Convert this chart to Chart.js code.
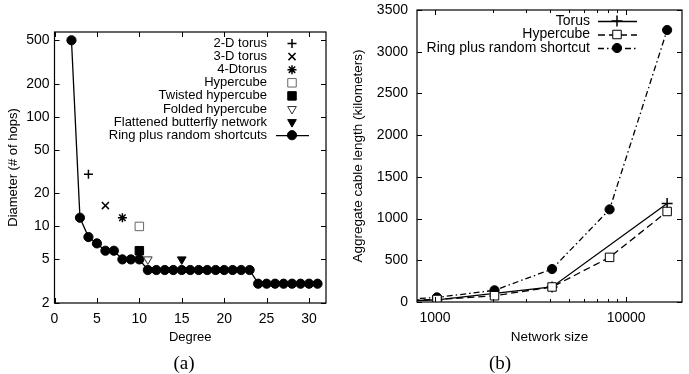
<!DOCTYPE html>
<html>
<head>
<meta charset="utf-8">
<script src="https://cdn.jsdelivr.net/npm/chart.js@4/dist/chart.umd.min.js"></script>
<style>
  html, body { margin: 0; padding: 0; background: #fff; }
  #wrap { position: relative; width: 689px; height: 374px; overflow: hidden; }
  .box { position: absolute; top: 0; height: 374px; }
  .cap { position: absolute; top: 352px; font: 19px "Liberation Serif", serif; color: #000; transform: translateX(-50%); }
</style>
</head>
<body>
<div id="wrap">
  <div class="box" style="left:0;width:345px"><canvas id="diam"></canvas></div>
  <div class="box" style="left:345px;width:344px"><canvas id="cable"></canvas></div>
  <div class="cap" style="left:184px">(a)</div>
  <div class="cap" style="left:500px">(b)</div>
</div>
<script>
// (a) diameter vs degree
const ringDegree = [2, 3, 4, 5, 6, 7, 8, 9, 10, 11, 12, 13, 14, 15, 16, 17, 18, 19, 20, 21, 22, 23, 24, 25, 26, 27, 28, 29, 30, 31];
const ringDiameter = [500, 12, 8, 7, 6, 6, 5, 5, 5, 4, 4, 4, 4, 4, 4, 4, 4, 4, 4, 4, 4, 4, 3, 3, 3, 3, 3, 3, 3, 3];
const topoNames = ['2-D torus', '3-D torus', '4-Dtorus', 'Hypercube', 'Twisted hypercube', 'Folded hypercube', 'Flattened butterfly network'];
const topoDegree = [4, 6, 8, 10, 10, 11, 15];
const topoDiameter = [30, 15.5, 12, 10, 6, 5, 5];
const diamTicks = [2, 5, 10, 20, 50, 100, 200, 500];

// (b) cable length vs network size
const netSize = [512, 1024, 2048, 4096, 8192, 16384];
const torusLen = [5, 25, null, 180, null, 1180];
const hypercubeLen = [10, 30, 75, 180, 535, 1085];
const ringLen = [15, 55, 140, 395, 1110, 3260];
const sizeTicks = [1000, 2000, 3000, 4000, 5000, 6000, 7000, 8000, 9000, 10000];

Chart.defaults.font.family = '"Liberation Sans", Arial, sans-serif';
Chart.defaults.color = '#000';
Chart.defaults.animation = false;

const topoStyles = [
  {pointStyle: 'cross', radius: 4.5, bg: '#000', border: '#000', rot: 0, bw: 1.5},
  {pointStyle: 'crossRot', radius: 5, bg: '#000', border: '#000', rot: 0, bw: 1.5},
  {pointStyle: 'star', radius: 4.5, bg: '#000', border: '#000', rot: 0, bw: 1.5},
  {pointStyle: 'rect', radius: 6, bg: '#fff', border: '#666', rot: 0, bw: 1},
  {pointStyle: 'rect', radius: 6, bg: '#000', border: '#000', rot: 0, bw: 1},
  {pointStyle: 'triangle', radius: 5, bg: '#fff', border: '#333', rot: 180, bw: 1},
  {pointStyle: 'triangle', radius: 5, bg: '#000', border: '#000', rot: 180, bw: 1}
];

// stop tick labels from pushing the plot area around
function noPad(s) {
  s.paddingTop = 0; s.paddingBottom = 0; s.paddingLeft = 0; s.paddingRight = 0;
}

// box + inward tick marks, gnuplot style
const frame = {
  id: 'frame',
  afterDatasetsDraw(chart) {
    const {ctx, chartArea: a} = chart;
    ctx.save();
    ctx.strokeStyle = '#000';
    ctx.lineWidth = 1;
    ctx.beginPath();
    for (const id of ['x', 'y']) {
      const s = chart.scales[id];
      s.ticks.forEach(t => {
        const p = Math.round(s.getPixelForValue(t.value)) + 0.5;
        const len = t.label === '' ? 3 : 5;
        if (id === 'x') {
          ctx.moveTo(p, a.bottom); ctx.lineTo(p, a.bottom - len);
          ctx.moveTo(p, a.top); ctx.lineTo(p, a.top + len);
        } else {
          ctx.moveTo(a.left, p); ctx.lineTo(a.left + len, p);
          ctx.moveTo(a.right, p); ctx.lineTo(a.right - len, p);
        }
      });
    }
    ctx.stroke();
    ctx.lineWidth = 1.2;
    ctx.strokeRect(a.left, a.top, a.right - a.left, a.bottom - a.top);
    ctx.restore();
  }
};

// legend drawn gnuplot style: text right aligned, sample to the right
const keyBox = {
  id: 'keyBox',
  afterDatasetsDraw(chart, args, o) {
    const ctx = chart.ctx;
    ctx.save();
    ctx.font = o.size + 'px "Liberation Sans", Arial, sans-serif';
    ctx.textAlign = 'right';
    ctx.textBaseline = 'middle';
    chart.data.datasets.forEach((ds, i) => {
      const y = o.top + i * o.row;
      ctx.fillStyle = '#000';
      ctx.fillText(ds.label, o.textRight, y);
      if (ds.showLine !== false) {
        ctx.strokeStyle = ds.borderColor;
        ctx.lineWidth = ds.borderWidth;
        ctx.setLineDash(ds.borderDash || []);
        ctx.beginPath();
        ctx.moveTo(o.lineFrom, y + 0.5);
        ctx.lineTo(o.lineTo, y + 0.5);
        ctx.stroke();
        ctx.setLineDash([]);
      }
      ctx.fillStyle = ds.pointBackgroundColor;
      ctx.strokeStyle = ds.pointBorderColor;
      ctx.lineWidth = ds.pointBorderWidth;
      Chart.helpers.drawPoint(ctx, {
        pointStyle: ds.pointStyle, radius: ds.pointRadius,
        rotation: ds.pointRotation || 0, borderWidth: ds.pointBorderWidth
      }, o.marker, y);
    });
    ctx.restore();
  }
};

const diamSets = topoNames.map((name, i) => ({
  label: name,
  data: [{x: topoDegree[i], y: topoDiameter[i]}],
  showLine: false,
  pointStyle: topoStyles[i].pointStyle,
  pointRadius: topoStyles[i].radius,
  pointRotation: topoStyles[i].rot,
  pointBackgroundColor: topoStyles[i].bg,
  pointBorderColor: topoStyles[i].border,
  pointBorderWidth: topoStyles[i].bw
}));
diamSets.push({
  label: 'Ring plus random shortcuts',
  data: ringDegree.map((d, i) => ({x: d, y: ringDiameter[i]})),
  showLine: true,
  borderColor: '#000',
  borderWidth: 1.3,
  pointStyle: 'circle',
  pointRadius: 4.6,
  pointBackgroundColor: '#000',
  pointBorderColor: '#000',
  pointBorderWidth: 1,
  order: 5
});

new Chart(document.getElementById('diam'), {
  type: 'scatter',
  data: {datasets: diamSets},
  options: {
    responsive: true,
    maintainAspectRatio: false,
    layout: {padding: {top: 32, right: 19, bottom: 29, left: 0}},
    plugins: {
      legend: {display: false},
      tooltip: {enabled: false},
      keyBox: {size: 13, top: 43.5, row: 13.1, textRight: 267, marker: 292, lineFrom: 276, lineTo: 309}
    },
    scales: {
      x: {
        type: 'linear', min: 0, max: 32,
        grid: {display: false, drawTicks: false},
        border: {display: false},
        ticks: {stepSize: 5, padding: 8, font: {size: 14}, maxRotation: 0},
        afterBuildTicks: s => { s.ticks = [0, 5, 10, 15, 20, 25, 30].map(v => ({value: v})); },
        afterFit: s => { s.height = 42; noPad(s); },
        title: {display: true, text: 'Degree', font: {size: 13}, padding: {top: 0, bottom: 0}}
      },
      y: {
        type: 'logarithmic', min: 2, max: 595,
        grid: {display: false, drawTicks: false},
        border: {display: false},
        ticks: {padding: 5, font: {size: 14}, callback: v => String(v)},
        afterBuildTicks: s => { s.ticks = diamTicks.map(v => ({value: v})); },
        afterFit: s => { s.width = 54.5; noPad(s); },
        title: {display: true, text: 'Diameter (# of hops)', font: {size: 13}, padding: {top: 6, bottom: 0}}
      }
    }
  },
  plugins: [frame, keyBox]
});

new Chart(document.getElementById('cable'), {
  type: 'line',
  data: {
    datasets: [
      {
        label: 'Torus',
        data: netSize.map((n, i) => ({x: n, y: torusLen[i]})),
        spanGaps: true,
        borderColor: '#000', borderWidth: 1.3,
        pointStyle: 'cross', pointRadius: 5.5,
        pointBackgroundColor: '#000', pointBorderColor: '#000', pointBorderWidth: 1.5,
        order: 2
      },
      {
        label: 'Hypercube',
        data: netSize.map((n, i) => ({x: n, y: hypercubeLen[i]})),
        borderColor: '#000', borderWidth: 1.3, borderDash: [7, 4],
        pointStyle: 'rect', pointRadius: 6,
        pointBackgroundColor: '#fff', pointBorderColor: '#000', pointBorderWidth: 1,
        order: 0
      },
      {
        label: 'Ring plus random shortcut',
        data: netSize.map((n, i) => ({x: n, y: ringLen[i]})),
        borderColor: '#000', borderWidth: 1.3, borderDash: [6, 3, 1.5, 3],
        pointStyle: 'circle', pointRadius: 4.6,
        pointBackgroundColor: '#000', pointBorderColor: '#000', pointBorderWidth: 1,
        order: 1
      }
    ]
  },
  options: {
    responsive: true,
    maintainAspectRatio: false,
    layout: {padding: {top: 10, right: 7, bottom: 29, left: 0}},
    plugins: {
      legend: {display: false},
      tooltip: {enabled: false},
      keyBox: {size: 14, top: 21, row: 13.5, textRight: 245, marker: 272, lineFrom: 253, lineTo: 292}
    },
    scales: {
      x: {
        type: 'logarithmic', min: 805, max: 19600,
        grid: {display: false, drawTicks: false},
        border: {display: false},
        ticks: {padding: 8, font: {size: 14}, maxRotation: 0, autoSkip: false,
          callback: v => (v === 1000 || v === 10000) ? String(v) : ''},
        afterBuildTicks: s => { s.ticks = sizeTicks.map(v => ({value: v})); },
        afterFit: s => { s.height = 43; noPad(s); },
        title: {display: true, text: 'Network size', font: {size: 13.5}, padding: {top: 0, bottom: 0}}
      },
      y: {
        type: 'linear', min: 0, max: 3500,
        grid: {display: false, drawTicks: false},
        border: {display: false},
        ticks: {stepSize: 500, padding: 9, font: {size: 14}, callback: v => String(v)},
        afterFit: s => { s.width = 72; noPad(s); },
        title: {display: true, text: 'Aggregate cable length (kilometers)', font: {size: 13.5}, padding: {top: 5, bottom: 0}}
      }
    }
  },
  plugins: [frame, keyBox]
});
</script>
</body>
</html>
